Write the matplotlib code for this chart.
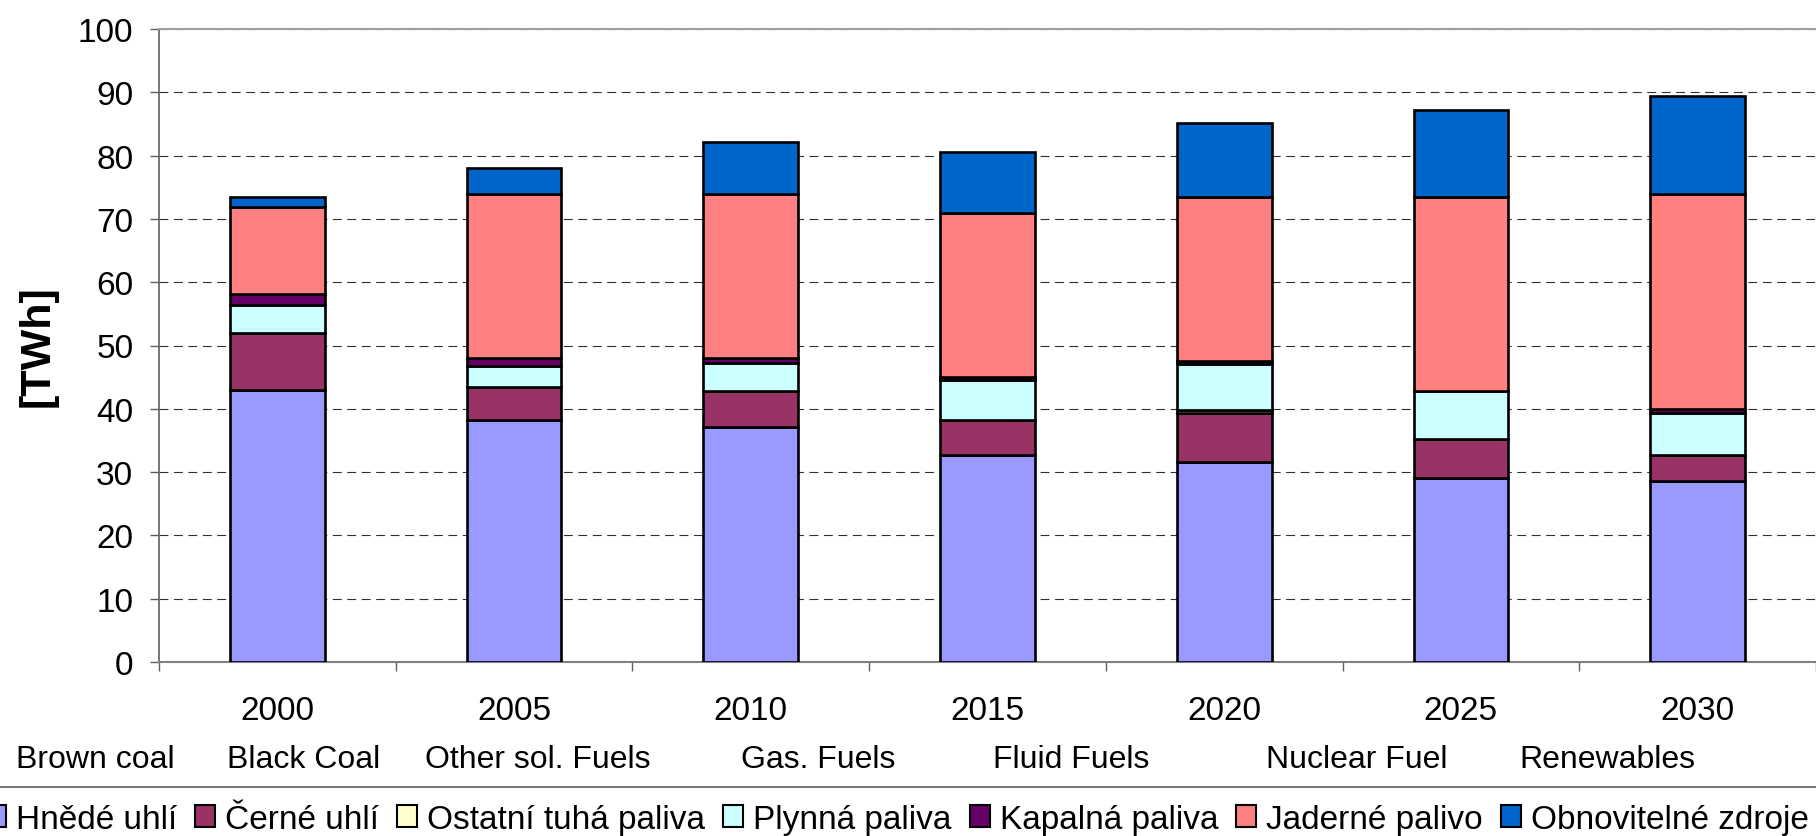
import numpy as np
import matplotlib
matplotlib.use("Agg")
import matplotlib.pyplot as plt
from matplotlib.patches import Patch

plt.rcParams["font.family"] = ["Liberation Sans", "DejaVu Sans"]

# -----------------------------
# Data (TWh)
# -----------------------------
years = ["2000", "2005", "2010", "2015", "2020", "2025", "2030"]
series_names = ["Hnědé uhlí", "Černé uhlí", "Ostatní tuhá paliva", "Plynná paliva",
                "Kapalná paliva", "Jaderné palivo", "Obnovitelné zdroje"]
english_names = ["Brown coal", "Black Coal", "Other sol. Fuels", "Gas. Fuels",
                 "Fluid Fuels", "Nuclear Fuel", "Renewables"]

hnede = [42.9, 38.3, 37.2, 32.7, 31.6, 29.0, 28.6]
cerne = [9.1, 5.1, 5.6, 5.6, 7.7, 6.3, 4.1]
ostatni = [0.0, 0.0, 0.0, 0.0, 0.5, 0.0, 0.0]
plynna = [4.4, 3.4, 4.5, 6.2, 7.2, 7.5, 6.6]
kapalna = [1.8, 1.2, 0.7, 0.5, 0.5, 0.0, 0.7]
jaderne = [13.7, 26.0, 26.0, 25.9, 25.9, 30.6, 34.0]
obnovitelne = [1.6, 4.0, 8.2, 9.7, 11.8, 13.8, 15.4]

colors = ["#9999FF", "#993366", "#FFFFCC", "#CCFFFF", "#660066", "#FF8080", "#0066CC"]

# -----------------------------
# Figure
# -----------------------------
W, H = 1816, 837
fig = plt.figure(figsize=(W / 100, H / 100), dpi=100)
ax = fig.add_axes([159 / W, 1 - 663 / H, 1 - 159 / W, (663 - 30) / H])

x = np.arange(len(years))
bottom = np.zeros(len(years))
for vals, col in zip([hnede, cerne, ostatni, plynna, kapalna, jaderne, obnovitelne], colors):
    ax.bar(x, vals, width=0.4, bottom=bottom, color=col, edgecolor="black", linewidth=1.9, zorder=3)
    bottom += np.array(vals)

ax.set_xlim(-0.5, len(years) - 0.5)
ax.set_ylim(0, 100)
ax.set_yticks(np.arange(0, 101, 10))
ax.yaxis.grid(True, linestyle=(0, (8, 5)), color="#303030", linewidth=0.8)
ax.set_axisbelow(True)

ax.set_xticks(x)
ax.set_xticklabels(years)
ax.set_xticks(np.arange(-0.5, len(years), 1.0), minor=True)
ax.tick_params(axis="x", which="major", length=0, pad=24, labelsize=24)
ax.tick_params(axis="x", which="minor", length=6.5, width=1, color="#606060")
ax.tick_params(axis="y", length=6.5, width=1, color="#606060", pad=12, labelsize=24)

ax.spines["top"].set_color("#a0a0a0")
ax.spines["top"].set_linewidth(1.5)
ax.spines["right"].set_visible(False)
ax.spines["left"].set_color("#606060")
ax.spines["bottom"].set_color("#808080")
ax.spines["left"].set_linewidth(1.2)
ax.spines["bottom"].set_linewidth(1.5)

fig.text(38 / W, 0.5 * (1 - 663 / H + 1 - 30 / H), "[TWh]", rotation=90,
         ha="center", va="center", fontsize=31, fontweight="bold")

# English names row
name_x = [95, 304, 538, 818, 1071, 1357, 1607]
for nx, nm in zip(name_x, english_names):
    fig.text(nx / W, 1 - 760 / H, nm, ha="center", va="center", fontsize=23)

# Legend
handles = [Patch(facecolor=c, edgecolor="black", linewidth=1.5) for c in colors]
fs_px = 24 * 100 / 72
bpad = 0.5
leg_left = -14 - bpad * fs_px
leg = fig.legend(handles, series_names, ncol=7, loc="upper left",
                 bbox_to_anchor=(leg_left / W, 1 - 788 / H), borderaxespad=0,
                 fontsize=24, frameon=True, fancybox=False, edgecolor="#303030",
                 handlelength=0.6, handleheight=0.6, handletextpad=0.3,
                 columnspacing=0.54, borderpad=bpad)
leg.get_frame().set_linewidth(1.2)

fig.savefig("out.png", dpi=100)
